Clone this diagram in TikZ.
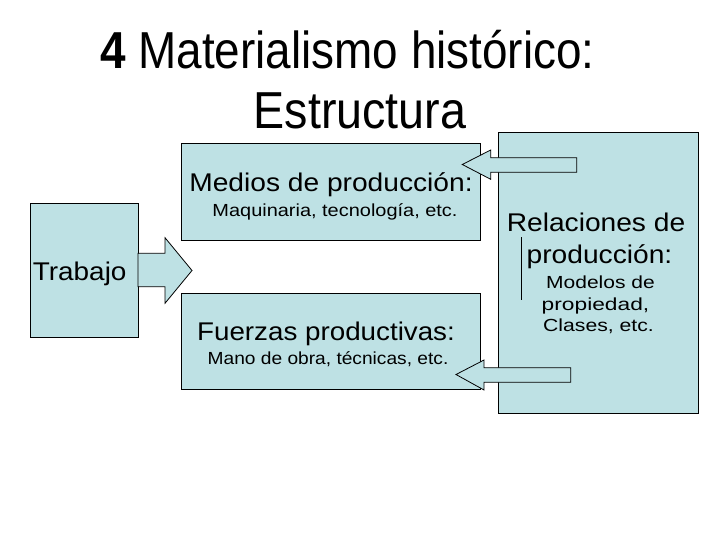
\documentclass[tikz,border=0pt]{standalone}
\usepackage{graphicx}
\usepackage{fontspec}
\setmainfont{Liberation Sans}
\definecolor{boxfill}{RGB}{190,225,228}
\newcommand{\bigtext}{\fontsize{25.6}{30}\selectfont}
\newcommand{\smalltext}{\fontsize{17.5}{21}\selectfont}
\newcommand{\titletext}{\fontsize{52}{60}\selectfont}
\newcommand{\widen}[2]{\scalebox{#1}[1]{#2}}

\begin{document}
\begin{tikzpicture}[x=1pt,y=-1pt,
		box/.style={rectangle,fill=boxfill,draw=black,line width=1pt,inner sep=0pt,outer sep=0pt},
		blockarrow/.style={fill=boxfill,draw=black,line width=0.8pt,line join=miter},
		label/.style={inner sep=0pt,anchor=base}]
				\useasboundingbox (0,0) rectangle (720,540);

				% title
				\node[label] (title1) at (347.5,68.3) {\titletext\widen{0.882}{\textbf{4} Materialismo histórico:}};
				\node[label] (title2) at (360,128.3) {\titletext\widen{0.897}{Estructura}};

				% boxes
				\node[box,minimum width=108pt,minimum height=133pt] (trabajo) at (84,270.5) {};
				\node[box,minimum width=299.5pt,minimum height=96pt] (medios) at (330.8,192) {};
				\node[box,minimum width=299.5pt,minimum height=95.5pt] (fuerzas) at (331,341.7) {};
				\node[box,minimum width=200pt,minimum height=281pt] (relaciones) at (598.4,273.3) {};

				% arrows
				\draw[blockarrow] (138,253.3) -- (165,253.3) -- (165,237.7) -- (192,270.5)
						-- (165,303.3) -- (165,286.7) -- (138,286.7) -- cycle;
				\draw[blockarrow] (576.7,157.7) -- (490.7,157.7) -- (490.7,150) -- (462.3,164.5)
						-- (490.7,179.3) -- (490.7,172.3) -- (576.7,172.3) -- cycle;
				\draw[blockarrow] (570.7,367.7) -- (484,367.7) -- (484,360) -- (456,374.5)
						-- (484,390) -- (484,382.3) -- (570.7,382.3) -- cycle;

				% texts
				\node[label,anchor=base west] (trabajoT) at (32.7,280) {\bigtext\widen{1.09}{Trabajo}};
				\node[label] (mediosT) at (331,192) {\bigtext\widen{1.10}{Medios de producción:}};
				\node[label] (mediosS) at (335,216) {\smalltext\widen{1.14}{Maquinaria, tecnología, etc.}};
				\node[label] (fuerzasT) at (326,340) {\bigtext\widen{1.085}{Fuerzas productivas:}};
				\node[label] (fuerzasS) at (328,364) {\smalltext\widen{1.095}{Mano de obra, técnicas, etc.}};
				\node[label] (relT1) at (596,231.7) {\bigtext\widen{1.10}{Relaciones de}};
				\node[label] (relT2) at (599.5,263.3) {\bigtext\widen{1.10}{producción:}};
				\node[label] (relS1) at (600.5,288.3) {\smalltext\widen{1.2}{Modelos de}};
				\node[label] (relS2) at (595.5,310) {\smalltext\widen{1.3}{propiedad,}};
				\node[label] (relS3) at (598.5,331.7) {\smalltext\widen{1.21}{Clases, etc.}};
				\draw[line width=1.3pt] (521.7,237.3) -- (521.7,300);
			\end{tikzpicture}
\end{document}
